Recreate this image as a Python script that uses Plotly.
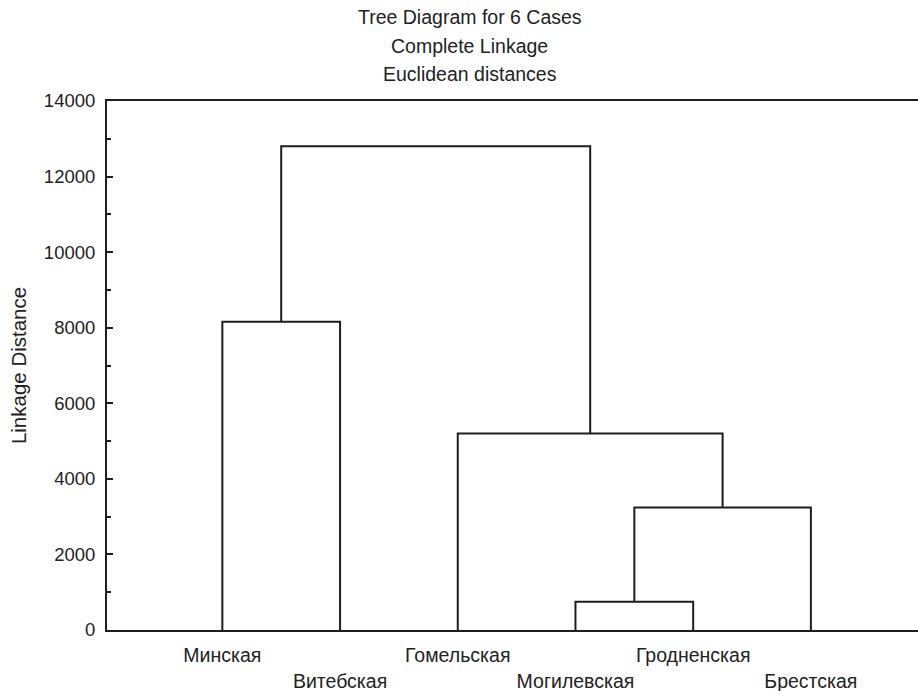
import plotly.graph_objects as go

# Leaves of the tree, in display order
leaves = ["Минская", "Витебская", "Гомельская", "Могилевская", "Гродненская", "Брестская"]

# Agglomeration steps (complete linkage): members are leaf names or earlier step ids
merge_left = ["Минская", "Могилевская", "S2", "Гомельская", "S1"]
merge_right = ["Витебская", "Гродненская", "Брестская", "S3", "S4"]
merge_height = [8160, 750, 3240, 5200, 12800]

y_ticks = [0, 2000, 4000, 6000, 8000, 10000, 12000, 14000]
title_lines = ["Tree Diagram for 6 Cases", "Complete Linkage", "Euclidean distances"]

# Position of each node: leaves sit at 1..n, clusters at the midpoint of their children
pos = {name: (i + 1, 0.0) for i, name in enumerate(leaves)}

fig = go.Figure()
for k, (a, b, h) in enumerate(zip(merge_left, merge_right, merge_height)):
    xa, ya = pos[a]
    xb, yb = pos[b]
    fig.add_trace(go.Scatter(
        x=[xa, xa, xb, xb], y=[ya, h, h, yb],
        mode="lines", line=dict(color="#1e1e1e", width=2),
        hoverinfo="skip", showlegend=False,
    ))
    pos[f"S{k + 1}"] = ((xa + xb) / 2, h)

font_family = "Liberation Sans, Arial, sans-serif"

# Alternate label rows so long names don't collide
tick_text = [name if i % 2 == 0 else "<br>" + name for i, name in enumerate(leaves)]

fig.update_layout(
    width=918, height=691,
    margin=dict(l=107, r=0, t=101, b=61),
    paper_bgcolor="white", plot_bgcolor="white",
    font=dict(family=font_family, size=19, color="#222222"),
    showlegend=False,
)

fig.update_xaxes(
    range=[0.02, 6.91],
    tickvals=list(range(1, len(leaves) + 1)),
    ticktext=tick_text,
    tickangle=0,
    ticks="", showgrid=False, zeroline=False,
    showline=True, linecolor="#1e1e1e", linewidth=2, mirror=True,
    tickfont=dict(size=19.5, color="#222222"),
    ticklabelstandoff=7,
)

fig.update_yaxes(
    range=[0, 14000],
    tickvals=y_ticks,
    ticktext=[str(v) for v in y_ticks],
    ticks="inside", ticklen=6, tickwidth=1.5, tickcolor="#1e1e1e",
    minor=dict(ticks="inside", ticklen=4, tickwidth=1.5, tickcolor="#1e1e1e", dtick=1000),
    showgrid=False, zeroline=False,
    showline=True, linecolor="#1e1e1e", linewidth=2, mirror=False,
    tickfont=dict(size=18.5, color="#222222"),
    ticklabelstandoff=6,
    title=dict(text="Linkage Distance", font=dict(size=20.5, color="#222222"), standoff=12),
)

# Three-line heading
for i, line in enumerate(title_lines):
    fig.add_annotation(
        text=line, xref="paper", yref="paper",
        x=(469.5 - 107) / 811, y=1, xanchor="center", yanchor="middle",
        yshift=101 - (17 + 28.5 * i), showarrow=False,
        font=dict(size=19.5, color="#222222"),
    )

fig.write_html("out.html")
